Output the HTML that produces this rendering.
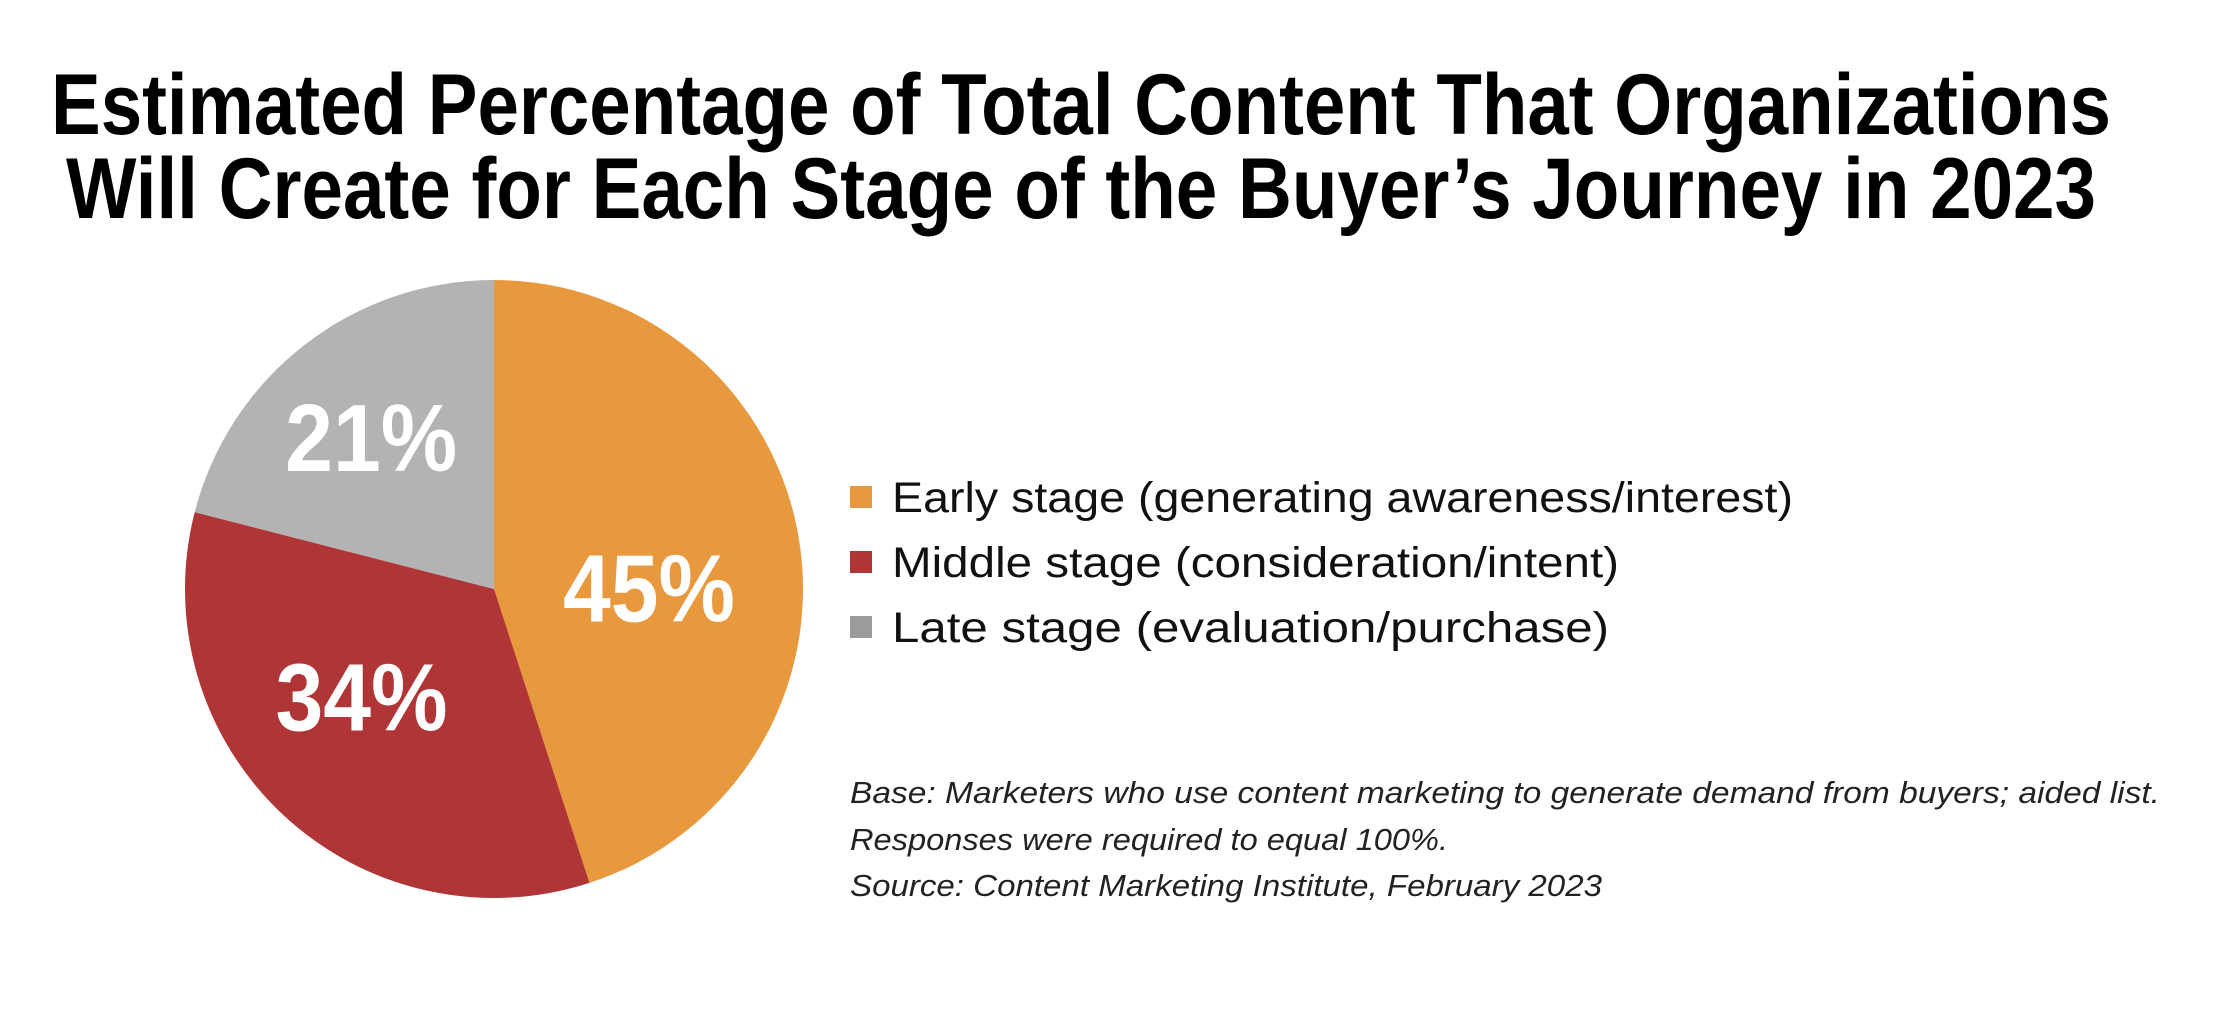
<!DOCTYPE html>
<html><head><meta charset="utf-8"><style>
html,body{margin:0;padding:0;background:#fff;}
svg{display:block;}
</style></head><body>
<svg id="chart" width="2228" height="1018" viewBox="0 0 2228 1018" xmlns="http://www.w3.org/2000/svg">
<g font-family="Liberation Sans, sans-serif" font-weight="bold" fill="#000" text-anchor="middle">
<text x="1081" y="134" font-size="86" textLength="2060" lengthAdjust="spacingAndGlyphs">Estimated Percentage of Total Content That Organizations</text>
<text x="1081" y="218" font-size="86" textLength="2030" lengthAdjust="spacingAndGlyphs">Will Create for Each Stage of the Buyer’s Journey in 2023</text>
</g>
<g id="slices"></g>
<g id="labels"></g>
<g id="legend"></g>
<g font-family="Liberation Sans, sans-serif" font-style="italic" font-size="31" fill="#222">
<text x="850" y="803" textLength="1310" lengthAdjust="spacingAndGlyphs">Base: Marketers who use content marketing to generate demand from buyers; aided list.</text>
<text x="850" y="850" textLength="598" lengthAdjust="spacingAndGlyphs">Responses were required to equal 100%.</text>
<text x="850" y="896" textLength="752" lengthAdjust="spacingAndGlyphs">Source: Content Marketing Institute, February 2023</text>
</g>
</svg>
<script>
const categories = ["Early stage (generating awareness/interest)", "Middle stage (consideration/intent)", "Late stage (evaluation/purchase)"];
const values = [45, 34, 21];
const printedLabels = ["45%", "34%", "21%"];
const colors = ["#E8993E", "#B03536", "#B3B3B3"];
const legendColors = ["#E8993E", "#B03536", "#9B9B9B"];

const NS = "http://www.w3.org/2000/svg";
const cx = 494, cy = 589, r = 309;
const labelRadius = [155, 170, 196];
const labelAngleShiftDeg = [8, 8, -1];
const total = values.reduce((a, b) => a + b, 0);
function angleFor(v) { return v / total * 2 * Math.PI; }
function pt(a, rad) { return [cx + rad * Math.sin(a), cy - rad * Math.cos(a)]; }

const slices = document.getElementById('slices');
const labels = document.getElementById('labels');
const legend = document.getElementById('legend');
let start = 0;
values.forEach((v, i) => {
  const end = start + angleFor(v);
  const [x0, y0] = pt(start, r), [x1, y1] = pt(end, r);
  const large = end - start > Math.PI ? 1 : 0;
  const p = document.createElementNS(NS, 'path');
  p.setAttribute('d', `M${cx},${cy} L${x0},${y0} A${r},${r} 0 ${large} 1 ${x1},${y1} Z`);
  p.setAttribute('fill', colors[i]);
  
  
  slices.appendChild(p);

  const mid = (start + end) / 2 + labelAngleShiftDeg[i] * Math.PI / 180;
  const [lx, ly] = pt(mid, labelRadius[i]);
  const t = document.createElementNS(NS, 'text');
  t.setAttribute('x', lx);
  t.setAttribute('y', ly + 35);
  t.setAttribute('text-anchor', 'middle');
  t.setAttribute('font-family', 'Liberation Sans, sans-serif');
  t.setAttribute('font-weight', 'bold');
  t.setAttribute('font-size', '96');
  t.setAttribute('fill', '#fff');
  t.setAttribute('textLength', '172');
  t.setAttribute('lengthAdjust', 'spacingAndGlyphs');
  t.textContent = printedLabels[i];
  
  
  labels.appendChild(t);
  start = end;
});

const legendWidths = [901, 727, 717];
categories.forEach((c, i) => {
  const y = 497 + i * 65;
  const g = document.createElementNS(NS, 'g');
  
  
  const sq = document.createElementNS(NS, 'rect');
  sq.setAttribute('x', 850); sq.setAttribute('y', y - 11);
  sq.setAttribute('width', 22); sq.setAttribute('height', 22);
  sq.setAttribute('fill', legendColors[i]);
  
  
  const t = document.createElementNS(NS, 'text');
  t.setAttribute('x', 892); t.setAttribute('y', y + 15);
  t.setAttribute('font-family', 'Liberation Sans, sans-serif');
  t.setAttribute('font-size', '43');
  t.setAttribute('fill', '#111');
  t.setAttribute('textLength', legendWidths[i]);
  t.setAttribute('lengthAdjust', 'spacingAndGlyphs');
  t.textContent = c;
  
  
  g.appendChild(sq); g.appendChild(t);
  legend.appendChild(g);
});
</script>
</body></html>
